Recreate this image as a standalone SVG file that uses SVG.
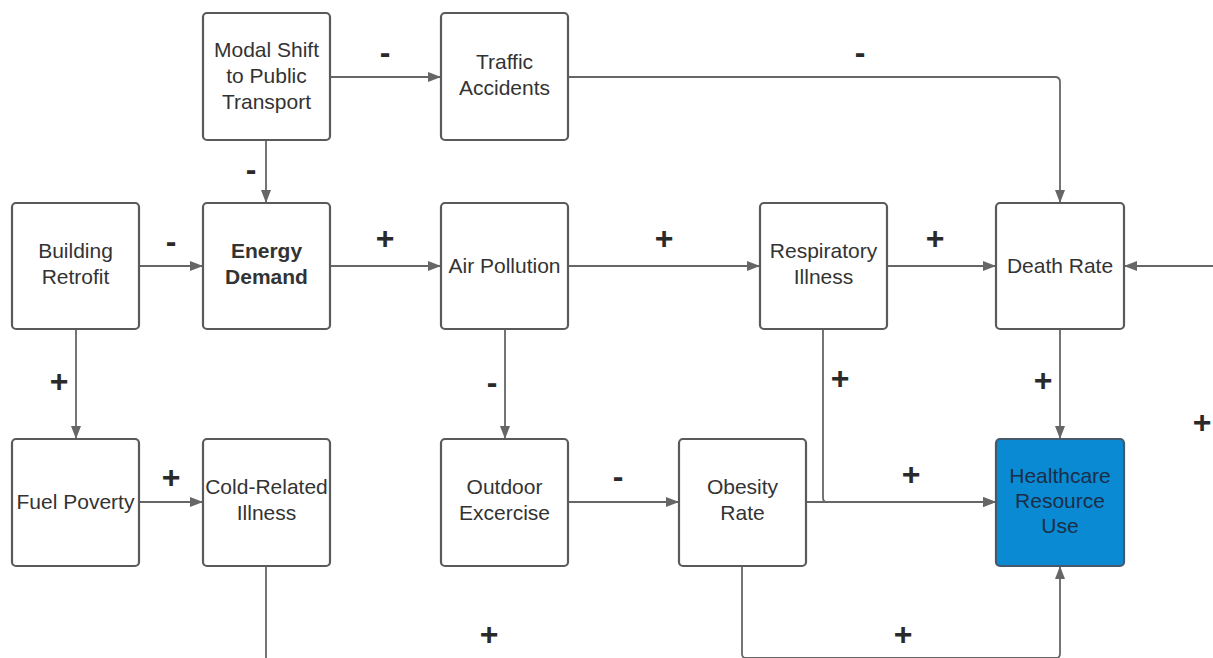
<svg xmlns="http://www.w3.org/2000/svg" width="1213" height="658" viewBox="0 0 1213 658">
<defs>
<marker id="arr" markerUnits="userSpaceOnUse" markerWidth="13" markerHeight="10" refX="13" refY="5" orient="auto">
<path d="M0,0 L13,5 L0,10 z" fill="#666"/>
</marker>
<style>
.box{fill:#fff;stroke:#5a5a5a;stroke-width:2.2}
.hl{fill:#0a8ad2;stroke:#44596b;stroke-width:2.2}
.t{font-family:"Liberation Sans",Arial,sans-serif;font-size:21px;fill:#333;text-anchor:middle}
.tb{font-weight:bold}
.th{fill:#1a2e48}
.c{fill:none;stroke:#666;stroke-width:1.8}
.a{marker-end:url(#arr)}
.s{font-family:"Liberation Sans",Arial,sans-serif;font-size:32px;font-weight:bold;fill:#2a2a2a;text-anchor:middle}
</style>
</defs>
<rect width="1213" height="658" fill="#fff"/>
<g id="connectors">
<path class="c a" d="M330,77 H441"/>
<path class="c a" d="M266,140 V203"/>
<path class="c a" d="M568,77 H1055 Q1060,77 1060,82 V203"/>
<path class="c a" d="M139,266 H203"/>
<path class="c a" d="M330,266 H441"/>
<path class="c a" d="M568,266 H760"/>
<path class="c a" d="M887,266 H996"/>
<path class="c a" d="M1213,266 H1124"/>
<path class="c a" d="M76,329 V439"/>
<path class="c a" d="M139,502 H203"/>
<path class="c a" d="M505,329 V439"/>
<path class="c a" d="M568,502 H679"/>
<path class="c a" d="M806,502 H996"/>
<path class="c a" d="M823,329 V498 Q823,502 827,502 H996"/>
<path class="c a" d="M1060,329 V439"/>
<path class="c" d="M266,566 V660"/>
<path class="c a" d="M742,566 V654 Q742,658 746,658 H1056 Q1060,658 1060,654 V566"/>
</g>
<g id="labels">
<text class="s" x="385" y="63">-</text>
<text class="s" x="251" y="180">-</text>
<text class="s" x="171" y="252">-</text>
<text class="s" x="385" y="249">+</text>
<text class="s" x="860" y="63">-</text>
<text class="s" x="664" y="249">+</text>
<text class="s" x="935" y="249">+</text>
<text class="s" x="59" y="392">+</text>
<text class="s" x="171" y="488">+</text>
<text class="s" x="492" y="393">-</text>
<text class="s" x="489" y="645">+</text>
<text class="s" x="618" y="487">-</text>
<text class="s" x="840" y="389">+</text>
<text class="s" x="1043" y="391">+</text>
<text class="s" x="1202" y="433">+</text>
<text class="s" x="911" y="485">+</text>
<text class="s" x="903" y="645">+</text>
</g>
<g id="modal-shift">
<rect class="box" x="203" y="13" width="127" height="127" rx="4"/>
<text class="t" x="266.5"><tspan x="266.5" y="57">Modal Shift</tspan><tspan x="266.5" y="83">to Public</tspan><tspan x="266.5" y="109">Transport</tspan></text>
</g>
<g id="traffic-accidents">
<rect class="box" x="441" y="13" width="127" height="127" rx="4"/>
<text class="t"><tspan x="504.5" y="69">Traffic</tspan><tspan x="504.5" y="95">Accidents</tspan></text>
</g>
<g id="building-retrofit">
<rect class="box" x="12" y="203" width="127" height="126" rx="4"/>
<text class="t"><tspan x="75.5" y="258">Building</tspan><tspan x="75.5" y="284">Retrofit</tspan></text>
</g>
<g id="energy-demand">
<rect class="box" x="203" y="203" width="127" height="126" rx="4"/>
<text class="t tb"><tspan x="266.5" y="258">Energy</tspan><tspan x="266.5" y="284">Demand</tspan></text>
</g>
<g id="air-pollution">
<rect class="box" x="441" y="203" width="127" height="126" rx="4"/>
<text class="t" x="504.5" y="273">Air Pollution</text>
</g>
<g id="respiratory-illness">
<rect class="box" x="760" y="203" width="127" height="126" rx="4"/>
<text class="t"><tspan x="823.5" y="258">Respiratory</tspan><tspan x="823.5" y="284">Illness</tspan></text>
</g>
<g id="death-rate">
<rect class="box" x="996" y="203" width="128" height="126" rx="4"/>
<text class="t" x="1060" y="273">Death Rate</text>
</g>
<g id="fuel-poverty">
<rect class="box" x="12" y="439" width="127" height="127" rx="4"/>
<text class="t" x="75.5" y="509">Fuel Poverty</text>
</g>
<g id="cold-related-illness">
<rect class="box" x="203" y="439" width="127" height="127" rx="4"/>
<text class="t"><tspan x="266.5" y="494">Cold-Related</tspan><tspan x="266.5" y="520">Illness</tspan></text>
</g>
<g id="outdoor-excercise">
<rect class="box" x="441" y="439" width="127" height="127" rx="4"/>
<text class="t"><tspan x="504.5" y="494">Outdoor</tspan><tspan x="504.5" y="520">Excercise</tspan></text>
</g>
<g id="obesity-rate">
<rect class="box" x="679" y="439" width="127" height="127" rx="4"/>
<text class="t"><tspan x="742.5" y="494">Obesity</tspan><tspan x="742.5" y="520">Rate</tspan></text>
</g>
<g id="healthcare-resource-use">
<rect class="hl" x="996" y="439" width="128" height="127" rx="4"/>
<text class="t th"><tspan x="1060" y="483">Healthcare</tspan><tspan x="1060" y="508">Resource</tspan><tspan x="1060" y="533">Use</tspan></text>
</g>
</svg>
